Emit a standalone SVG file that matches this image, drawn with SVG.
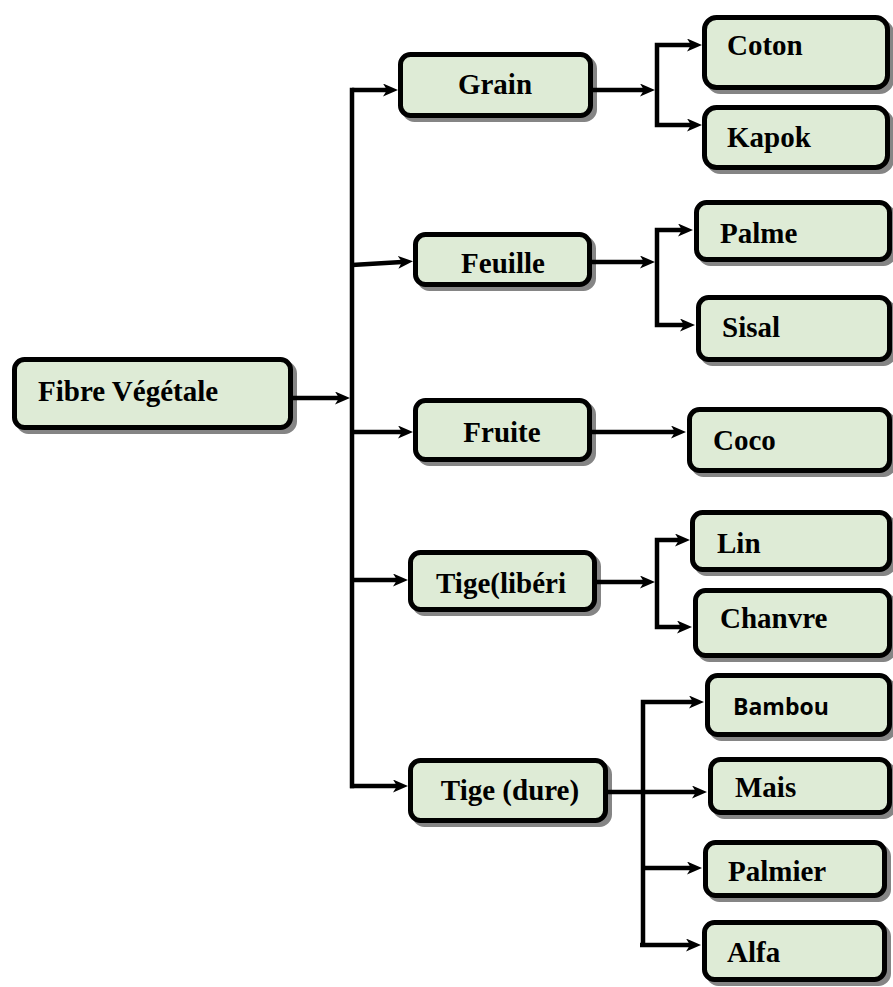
<svg xmlns="http://www.w3.org/2000/svg" width="893" height="987" viewBox="0 0 893 987">
  <style>
    .shadow { fill: #858585; stroke: #858585; stroke-width: 5; }
    .box { fill: #DEEBD6; stroke: #000; stroke-width: 5; }
    .lbl { font-family: "Liberation Serif", "Times New Roman", serif; font-weight: bold; font-size: 29px; fill: #000; }
    .lbl-sans { font-family: "Open Sans", "Noto Sans", sans-serif; font-weight: bold; font-size: 23px; fill: #000; }
    .mid { text-anchor: middle; }
    .wire { fill: none; stroke: #000; stroke-width: 4.5; stroke-linecap: butt; stroke-linejoin: miter; }
    .trunk { fill: none; stroke: #000; stroke-width: 4.5; stroke-linecap: square; }
  </style>
  <defs>
    <marker id="head" viewBox="0 0 15 13" markerWidth="15" markerHeight="13" refX="4" refY="6.5" orient="auto" markerUnits="userSpaceOnUse">
      <path d="M0,0 L15,6.5 L0,13 L4,6.5 z" fill="#000"/>
    </marker>
  </defs>

  <!-- root -->
  <g id="fibre-vegetale">
    <rect class="shadow" x="18.5" y="363.5" width="276" height="68" rx="10"/>
    <rect class="box" x="14.5" y="359.5" width="276" height="68" rx="10"/>
    <text class="lbl" x="38" y="401">Fibre Végétale</text>
  </g>

  <!-- second level -->
  <g id="grain">
    <rect class="shadow" x="404.5" y="58.5" width="190" height="61" rx="10"/>
    <rect class="box" x="400.5" y="54.5" width="190" height="61" rx="10"/>
    <text class="lbl mid" x="495" y="94">Grain</text>
  </g>
  <g id="feuille">
    <rect class="shadow" x="419.5" y="238.5" width="174" height="50" rx="10"/>
    <rect class="box" x="415.5" y="234.5" width="174" height="50" rx="10"/>
    <text class="lbl mid" x="503" y="273">Feuille</text>
  </g>
  <g id="fruite">
    <rect class="shadow" x="419.5" y="404.5" width="174" height="59" rx="10"/>
    <rect class="box" x="415.5" y="400.5" width="174" height="59" rx="10"/>
    <text class="lbl mid" x="502" y="442">Fruite</text>
  </g>
  <g id="tige-liberienne">
    <rect class="shadow" x="414.5" y="556.5" width="184" height="57" rx="10"/>
    <rect class="box" x="410.5" y="552.5" width="184" height="57" rx="10"/>
    <text class="lbl mid" x="501" y="593">Tige(libéri</text>
  </g>
  <g id="tige-dure">
    <rect class="shadow" x="414.5" y="764.5" width="195" height="60" rx="10"/>
    <rect class="box" x="410.5" y="760.5" width="195" height="60" rx="10"/>
    <text class="lbl mid" x="510" y="800">Tige (dure)</text>
  </g>

  <!-- leaves -->
  <g id="coton">
    <rect class="shadow" x="708.5" y="21.5" width="183" height="70" rx="12"/>
    <rect class="box" x="704.5" y="17.5" width="183" height="70" rx="12"/>
    <text class="lbl" x="727" y="55">Coton</text>
  </g>
  <g id="kapok">
    <rect class="shadow" x="708.5" y="111.5" width="183" height="60" rx="12"/>
    <rect class="box" x="704.5" y="107.5" width="183" height="60" rx="12"/>
    <text class="lbl" x="727" y="147">Kapok</text>
  </g>
  <g id="palme">
    <rect class="shadow" x="700.5" y="206.5" width="193" height="57" rx="10"/>
    <rect class="box" x="696.5" y="202.5" width="193" height="57" rx="10"/>
    <text class="lbl" x="720" y="243">Palme</text>
  </g>
  <g id="sisal">
    <rect class="shadow" x="702.5" y="301.5" width="191" height="62" rx="10"/>
    <rect class="box" x="698.5" y="297.5" width="191" height="62" rx="10"/>
    <text class="lbl" x="722" y="337">Sisal</text>
  </g>
  <g id="coco">
    <rect class="shadow" x="693.5" y="413.5" width="200" height="61" rx="10"/>
    <rect class="box" x="689.5" y="409.5" width="200" height="61" rx="10"/>
    <text class="lbl" x="713" y="450">Coco</text>
  </g>
  <g id="lin">
    <rect class="shadow" x="696.5" y="516.5" width="197" height="57" rx="10"/>
    <rect class="box" x="692.5" y="512.5" width="197" height="57" rx="10"/>
    <text class="lbl" x="717" y="553">Lin</text>
  </g>
  <g id="chanvre">
    <rect class="shadow" x="699.5" y="594.5" width="194" height="65" rx="10"/>
    <rect class="box" x="695.5" y="590.5" width="194" height="65" rx="10"/>
    <text class="lbl" x="720" y="628">Chanvre</text>
  </g>
  <g id="bambou">
    <rect class="shadow" x="711.5" y="679.5" width="182" height="59" rx="10"/>
    <rect class="box" x="707.5" y="675.5" width="182" height="59" rx="10"/>
    <text class="lbl-sans" x="733" y="715">Bambou</text>
  </g>
  <g id="mais">
    <rect class="shadow" x="714.5" y="763.5" width="179" height="53" rx="10"/>
    <rect class="box" x="710.5" y="759.5" width="179" height="53" rx="10"/>
    <text class="lbl" x="735" y="797">Mais</text>
  </g>
  <g id="palmier">
    <rect class="shadow" x="709.5" y="846.5" width="179" height="53" rx="10"/>
    <rect class="box" x="705.5" y="842.5" width="179" height="53" rx="10"/>
    <text class="lbl" x="728" y="881">Palmier</text>
  </g>
  <g id="alfa">
    <rect class="shadow" x="708.5" y="926.5" width="180" height="57" rx="10"/>
    <rect class="box" x="704.5" y="922.5" width="180" height="57" rx="10"/>
    <text class="lbl" x="727" y="962">Alfa</text>
  </g>

  <!-- connectors -->
  <g id="connectors">
    <!-- root to trunk -->
    <path class="wire" d="M293,398 H339" marker-end="url(#head)"/>
    <path class="trunk" d="M352,90 V786"/>
    <path class="wire" d="M352,90 H387" marker-end="url(#head)"/>
    <path class="wire" d="M352,265 L402,262" marker-end="url(#head)"/>
    <path class="wire" d="M352,432 H402" marker-end="url(#head)"/>
    <path class="wire" d="M352,580 H397" marker-end="url(#head)"/>
    <path class="wire" d="M350,786 H397" marker-end="url(#head)"/>

    <!-- Grain -->
    <path class="wire" d="M593,90 H644" marker-end="url(#head)"/>
    <path class="wire" d="M657,90 V45 H691" marker-end="url(#head)"/>
    <path class="wire" d="M657,90 V125 H691" marker-end="url(#head)"/>

    <!-- Feuille -->
    <path class="wire" d="M592,262 H644" marker-end="url(#head)"/>
    <path class="wire" d="M657,262 V230 H682" marker-end="url(#head)"/>
    <path class="wire" d="M657,262 V325 H684" marker-end="url(#head)"/>

    <!-- Fruite -->
    <path class="wire" d="M592,432 H675" marker-end="url(#head)"/>

    <!-- Tige(libéri -->
    <path class="wire" d="M597,582 H644" marker-end="url(#head)"/>
    <path class="wire" d="M657,582 V540 H679" marker-end="url(#head)"/>
    <path class="wire" d="M657,582 V627 H681" marker-end="url(#head)"/>

    <!-- Tige (dure) -->
    <path class="wire" d="M608,792 H696" marker-end="url(#head)"/>
    <path class="wire" d="M643,945 V702 H693" marker-end="url(#head)"/>
    <path class="wire" d="M643,868 H691" marker-end="url(#head)"/>
    <path class="wire" d="M640,945 H690" marker-end="url(#head)"/>
  </g>
</svg>
